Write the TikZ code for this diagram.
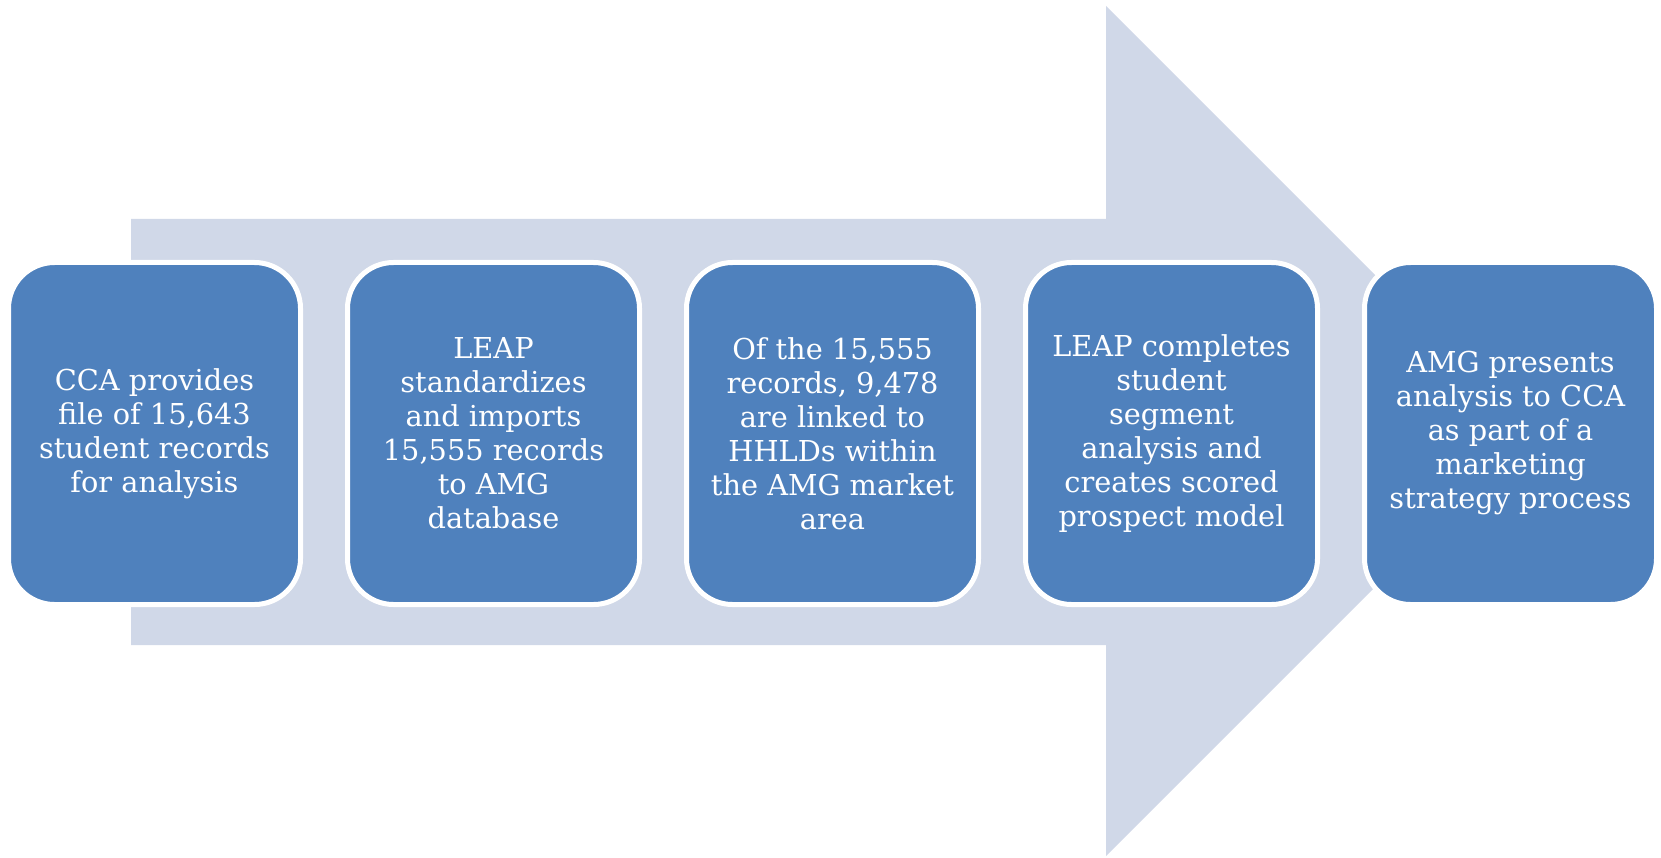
\documentclass[tikz,border=0pt]{standalone}
\usepackage{fontspec}
\setmainfont{DejaVu Serif}
\definecolor{flowarrow}{HTML}{D0D8E8}
\definecolor{stepblue}{HTML}{4F81BD}
\begin{document}
\begin{tikzpicture}[x=1pt,y=-1pt,
  stepbox/.style={rectangle, rounded corners=46pt, fill=stepblue, draw=white,
    line width=5pt, minimum width=292pt, minimum height=342pt, inner sep=0pt,
    text=white, align=center, font=\fontsize{28.8}{34}\selectfont}]
  \useasboundingbox (0,0) rectangle (1661,858);
  % broad background arrow
  \fill[flowarrow] (131,219) -- (1106,219) -- (1106,6) -- (1531,431)
    -- (1106,856) -- (1106,645) -- (131,645) -- cycle;
  % process steps
  \node[stepbox] (s1) at (154.5,433.5) {CCA provides\\file of 15,643\\student records\\for analysis};
  \node[stepbox] (s2) at (493.5,433.5) {LEAP\\standardizes\\and imports\\15,555 records\\to AMG\\database};
  \node[stepbox] (s3) at (832.5,433.5) {Of the 15,555\\records, 9,478\\are linked to\\HHLDs within\\the AMG market\\area};
  \node[stepbox] (s4) at (1171.5,433.5) {LEAP completes\\student\\segment\\analysis and\\creates scored\\prospect model};
  \node[stepbox] (s5) at (1510.5,433.5) {AMG presents\\analysis to CCA\\as part of a\\marketing\\strategy process};
\end{tikzpicture}
\end{document}
